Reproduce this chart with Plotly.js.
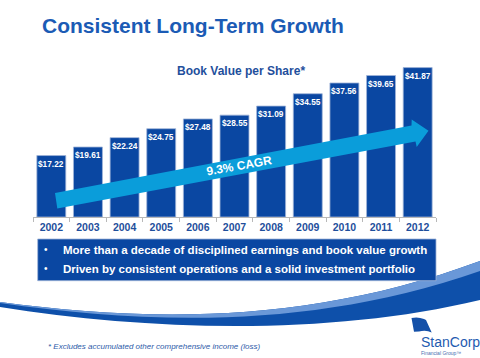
<!DOCTYPE html>
<html>
<head>
<meta charset="utf-8">
<script src="https://cdn.plot.ly/plotly-3.0.1.min.js"></script>
<style>
html,body{margin:0;padding:0;background:#fff;}
#chart{width:480px;height:358px;}
</style>
</head>
<body>
<div id="chart"></div>
<script>
// ---- data ----
var years = ['2002','2003','2004','2005','2006','2007','2008','2009','2010','2011','2012'];
var bookValue = [17.22, 19.61, 22.24, 24.75, 27.48, 28.55, 31.09, 34.55, 37.56, 39.65, 41.87];
var valueLabels = bookValue.map(function(v){ return '$' + v.toFixed(2); });
var cagrLabel = '9.3% CAGR';
var chartTitle = 'Consistent Long-Term Growth';
var chartSubtitle = 'Book Value per Share*';
var bullets = ['More than a decade of disciplined earnings and book value growth',
               'Driven by consistent operations and a solid investment portfolio'];
var footnote = '* Excludes accumulated other comprehensive income (loss)';

// ---- layout geometry (pixels) ----
var W = 480, H = 358;
var ML = 33, MR = 44, MT = 60, MB = 141;
var PW = W - ML - MR, PH = H - MT - MB;
function X(px){ return (px - ML) / PW; }
function Y(py){ return (H - MB - py) / PH; }
function path(pts){
  return pts.map(function(c){
    if (c[0] === 'Z') return 'Z';
    var s = c[0];
    for (var i = 1; i < c.length; i += 2) {
      s += (i > 1 ? ',' : ' ') + X(c[i]).toFixed(5) + ',' + Y(c[i+1]).toFixed(5);
    }
    return s;
  }).join(' ');
}

var FONT = 'Liberation Sans, Arial, Helvetica, sans-serif';
var DARK = '#0A47A2';
var CYAN = '#0A9DDA';
var TXTBLUE = '#1F4F9C';

var traces = [
  {
    type: 'bar', x: years, y: bookValue,
    marker: {color: DARK, line: {color: '#9FB4D8', width: 0.8}},
    hoverinfo: 'skip'
  }
];

var shapes = [
  {type: 'path', xref: 'paper', yref: 'paper', layer: 'below',
   fillcolor: '#0E50AA', line: {width: 0},
   path: path([['M',0,302],['C',150,322,310,324,480,261],['L',480,300],['C',330,336,150,331,0,307],['Z']])},
  {type: 'path', xref: 'paper', yref: 'paper', layer: 'below',
   fillcolor: '#6A98D8', line: {width: 0},
   path: path([['M',0,302],['C',150,322,310,324,480,261],['L',480,271],['C',310,330,150,324,0,303],['Z']])},
  {type: 'rect', xref: 'paper', yref: 'paper', layer: 'below',
   x0: X(37.7), x1: X(436), y0: Y(239), y1: Y(280.7),
   fillcolor: DARK, line: {color: '#9FB4D8', width: 0.8}},
  {type: 'path', xref: 'paper', yref: 'paper', layer: 'above',
   fillcolor: CYAN, line: {width: 0},
   path: path([['M',55,193],['L',411.5,125.5],['L',411.7,119.5],['L',428.5,130.7],['L',416.7,147],['L',415.5,141.5],['L',57.3,208.5],['Z']])},
  {type: 'path', xref: 'paper', yref: 'paper', layer: 'above',
   fillcolor: '#1450A8', line: {width: 0},
   path: path([['M',411.5,318],['Q',418,316.5,424,319],['L',426,320],['L',431.7,332.5],['Q',426,329.5,419,331.5],['L',414,331.7],['Z']])}
];

var annotations = [];
// value labels at the top of each bar, positioned through the data axes (category index)
years.forEach(function(yr, i){
  annotations.push({
    xref: 'x', yref: 'y', x: i, y: bookValue[i], yshift: -8,
    xanchor: 'center', yanchor: 'middle', showarrow: false,
    text: valueLabels[i],
    font: {family: FONT, size: 8.3, color: '#FFFFFF', weight: 'bold'}
  });
});

annotations = annotations.concat([
  {xref: 'paper', yref: 'paper', x: X(40), y: Y(25), xanchor: 'left', yanchor: 'middle',
   text: chartTitle, showarrow: false,
   font: {family: FONT, size: 21, color: '#1B5BB5', weight: 'bold'}},
  {xref: 'paper', yref: 'paper', x: X(241), y: Y(71), xanchor: 'center', yanchor: 'middle',
   text: chartSubtitle, showarrow: false,
   font: {family: FONT, size: 12, color: TXTBLUE, weight: 'bold'}},
  {xref: 'paper', yref: 'paper', x: X(238.5), y: Y(166), xanchor: 'center', yanchor: 'middle',
   text: cagrLabel, showarrow: false, textangle: -10,
   font: {family: FONT, size: 12, color: '#FFFFFF', weight: 'bold'}},
  {xref: 'paper', yref: 'paper', x: X(42), y: Y(249.5), xanchor: 'left', yanchor: 'middle',
   text: '•', showarrow: false, font: {family: FONT, size: 10, color: '#FFFFFF'}},
  {xref: 'paper', yref: 'paper', x: X(42), y: Y(268.5), xanchor: 'left', yanchor: 'middle',
   text: '•', showarrow: false, font: {family: FONT, size: 10, color: '#FFFFFF'}},
  {xref: 'paper', yref: 'paper', x: X(61), y: Y(249.5), xanchor: 'left', yanchor: 'middle',
   text: bullets[0], showarrow: false,
   font: {family: FONT, size: 11.5, color: '#FFFFFF', weight: 'bold'}},
  {xref: 'paper', yref: 'paper', x: X(61), y: Y(268.5), xanchor: 'left', yanchor: 'middle',
   text: bullets[1], showarrow: false,
   font: {family: FONT, size: 11.5, color: '#FFFFFF', weight: 'bold'}},
  {xref: 'paper', yref: 'paper', x: X(46), y: Y(346), xanchor: 'left', yanchor: 'middle',
   text: footnote, showarrow: false,
   font: {family: FONT, size: 8, color: '#2C5AA8', style: 'italic'}},
  {xref: 'paper', yref: 'paper', x: X(418.5), y: Y(341.5), xanchor: 'left', yanchor: 'middle',
   text: 'StanCorp', showarrow: false,
   font: {family: 'Liberation Sans Narrow, Arial Narrow, Liberation Sans, sans-serif', size: 14, color: '#1F5BB0'}},
  {xref: 'paper', yref: 'paper', x: X(419), y: Y(352.5), xanchor: 'left', yanchor: 'middle',
   text: 'Financial Group™', showarrow: false,
   font: {family: FONT, size: 5, color: '#4A6FB0'}}
]);

var layout = {
  width: W, height: H,
  margin: {l: ML, r: MR, t: MT, b: MB, pad: 0},
  paper_bgcolor: '#FFFFFF', plot_bgcolor: '#FFFFFF',
  showlegend: false,
  bargap: 0.21,
  xaxis: {
    type: 'category', range: [-0.5, years.length - 0.5], autorange: false,
    showgrid: false, zeroline: false,
    showline: true, linecolor: '#B8B8B8', linewidth: 1,
    ticks: 'outside', tickson: 'boundaries', ticklen: 4, tickcolor: '#B8B8B8',
    tickfont: {family: FONT, size: 10.5, color: TXTBLUE, weight: 'bold'},
    fixedrange: true
  },
  yaxis: {range: [0, 44], autorange: false, visible: false, fixedrange: true},
  shapes: shapes,
  annotations: annotations
};

Plotly.newPlot('chart', traces, layout, {staticPlot: true, displayModeBar: false});
</script>
</body>
</html>
